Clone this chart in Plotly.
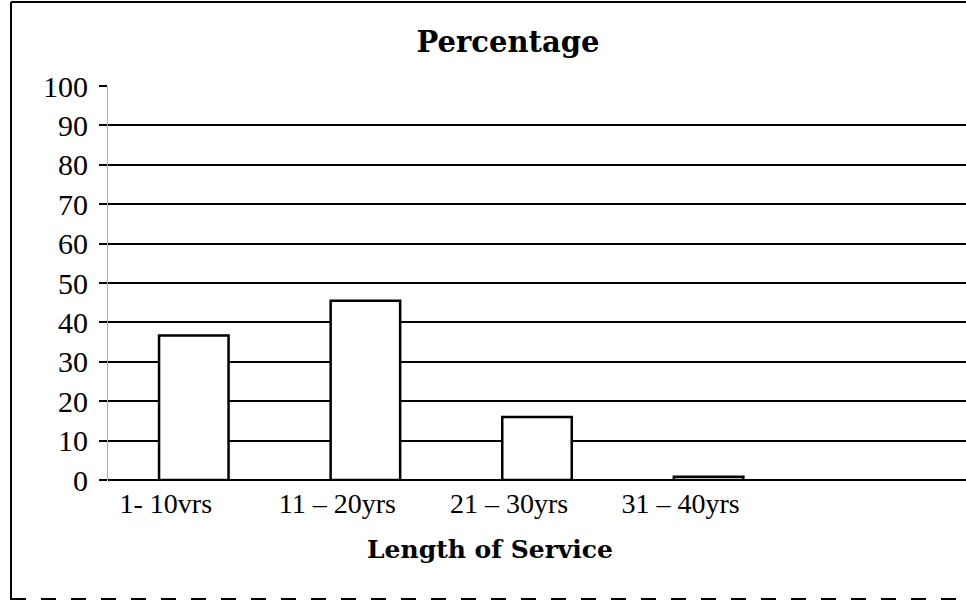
import plotly.graph_objects as go

categories = ["1- 10vrs", "11 – 20yrs", "21 – 30yrs", "31 – 40yrs"]
values = [36.7, 45.5, 16.0, 0.8]
y_ticks = list(range(0, 101, 10))

# design coordinates are screen pixels (body margin removed below)
W, H = 966, 606
PL, PT, PB = 108, 86, 480          # plot left / top / bottom on screen
L, T, B, R = PL, PT, H - PB, 0
pw, ph = W - L - R, H - T - B
unit = 171.6                         # px per category
xmax = -0.5 + pw / unit

def px(xs):
    return (xs - PL) / pw

def py(ys):
    return (PB - ys) / ph

fig = go.Figure()
fig.add_trace(go.Bar(
    x=list(range(len(categories))), y=values, width=0.405,
    marker=dict(color="white", line=dict(color="black", width=2.5)),
    showlegend=False, hoverinfo="skip",
))

fig.update_layout(
    width=W, height=H,
    margin=dict(l=L, r=R, t=T, b=B, pad=0),
    paper_bgcolor="white", plot_bgcolor="white",
    title=dict(text="<b>Percentage</b>", x=px(508), xref="paper", xanchor="center",
               y=1 - 42 / H, yref="container", yanchor="middle",
               font=dict(family="DejaVu Serif", size=29, color="black")),
    font=dict(family="Liberation Serif", size=30, color="black"),
)
fig.update_xaxes(
    range=[-0.5, xmax],
    tickmode="array", tickvals=list(range(len(categories))), ticktext=categories,
    ticks="", showgrid=False, zeroline=False, showline=False,
    ticklabelshift=-28, ticklabelstandoff=4,
    tickfont=dict(family="Liberation Serif", size=28),
)
fig.update_yaxes(
    range=[0, 100], tickvals=y_ticks,
    showgrid=True, gridcolor="black", gridwidth=1.5,
    zeroline=True, zerolinecolor="black", zerolinewidth=2,
    ticks="outside", ticklen=8, tickcolor="black", tickwidth=1.5,
    ticklabelstandoff=5,
    showline=True, linecolor="#aaaaaa", linewidth=1,
    tickfont=dict(family="Liberation Serif", size=30),
)
fig.add_annotation(
    text="<b>Length of Service</b>", xref="paper", yref="paper",
    x=px(490), y=py(549), xanchor="center", yanchor="middle", showarrow=False,
    font=dict(family="DejaVu Serif", size=25, color="black"),
)
# frame
fig.add_shape(type="line", xref="paper", yref="paper", x0=px(11), x1=px(11), y0=py(2), y1=py(600),
              line=dict(color="black", width=2))
fig.add_shape(type="line", xref="paper", yref="paper", x0=px(11), x1=px(966), y0=py(2), y1=py(2),
              line=dict(color="black", width=2))
fig.add_shape(type="line", xref="paper", yref="paper", x0=px(11), x1=px(966), y0=py(599), y1=py(599),
              line=dict(color="black", width=2, dash="longdash"))

fig.write_html("out.html", config={"displayModeBar": False},
               post_script="document.body.style.margin='0px';document.body.style.overflow='hidden';")
